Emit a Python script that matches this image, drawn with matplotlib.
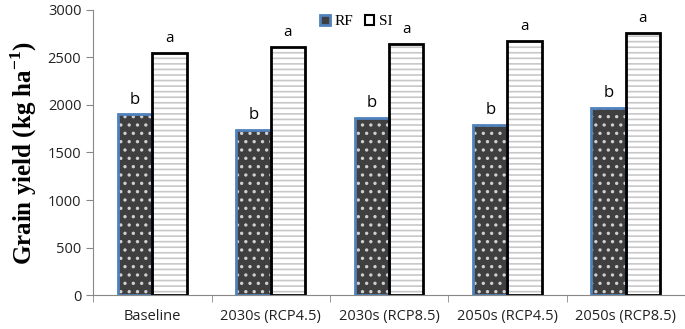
import matplotlib.pyplot as plt
import numpy as np
from matplotlib.patches import Patch
from matplotlib.ticker import FixedLocator

categories = ["Baseline", "2030s (RCP4.5)", "2030s (RCP8.5)",
              "2050s (RCP4.5)", "2050s (RCP8.5)"]
rf_yield = [1900, 1740, 1860, 1790, 1970]
si_yield = [2550, 2610, 2640, 2670, 2760]
rf_letters = ["b", "b", "b", "b", "b"]
si_letters = ["a", "a", "a", "a", "a"]

plt.rcParams["hatch.linewidth"] = 1.2
plt.rcParams["mathtext.fontset"] = "custom"
plt.rcParams["mathtext.rm"] = "Liberation Serif"
plt.rcParams["mathtext.bf"] = "Liberation Serif:bold"
plt.rcParams["font.family"] = ["Open Sans", "DejaVu Sans"]

fig = plt.figure(figsize=(6.85, 3.29), dpi=100)
ax = fig.add_axes([0.136, 0.103, 0.864, 0.867])

x = np.arange(len(categories))
width = 0.29

# fill + hatch layer, then outline layer
ax.bar(x - width / 2, rf_yield, width, color="#3f3f3f",
       edgecolor="#d0d0d0", hatch="..", linewidth=0)
ax.bar(x + width / 2, si_yield, width, color="white",
       edgecolor="#c8c8c8", hatch="---", linewidth=0)
ax.bar(x - width / 2, rf_yield, width, fill=False, edgecolor="#4f81bd",
       linewidth=2)
ax.bar(x + width / 2, si_yield, width, fill=False, edgecolor="black",
       linewidth=2)

for xi, v, s in zip(x, rf_yield, rf_letters):
    ax.annotate(s, (xi - width / 2, v), xytext=(0, 5),
                textcoords="offset points", ha="center", va="bottom",
                fontsize=12)
for xi, v, s in zip(x, si_yield, si_letters):
    ax.annotate(s, (xi + width / 2, v), xytext=(0, 5),
                textcoords="offset points", ha="center", va="bottom",
                fontsize=11)

ax.set_xlim(-0.5, len(categories) - 0.5)
ax.set_ylim(0, 3000)
ax.set_yticks(range(0, 3001, 500))
ax.set_xticks(x)
ax.set_xticklabels(categories)
ax.xaxis.set_minor_locator(FixedLocator(np.arange(-0.5, len(categories), 1)))
ax.tick_params(axis="x", which="major", length=0, pad=10, labelsize=10.5,
               colors="#222222")
ax.tick_params(axis="x", which="minor", length=5, color="#888888")
ax.tick_params(axis="y", length=5, color="#888888", labelsize=10.5,
               labelcolor="#222222")

for side in ["top", "right"]:
    ax.spines[side].set_visible(False)
for side in ["left", "bottom"]:
    ax.spines[side].set_color("#888888")

ax.set_ylabel("Grain yield (kg ha$^{\\mathbf{-1}}$)", fontsize=18,
              fontweight="bold", family="Liberation Serif", labelpad=6)

handles = [Patch(facecolor="#3f3f3f", edgecolor="#4f81bd", linewidth=2),
           Patch(facecolor="white", edgecolor="black", linewidth=1.5)]
ax.legend(handles, ["RF", "SI"], loc="upper center",
          bbox_to_anchor=(0.445, 1.03), ncol=2, frameon=False,
          prop={"family": "Liberation Serif", "size": 11},
          handlelength=0.6, handleheight=0.6, handletextpad=0.3,
          columnspacing=0.8)

fig.savefig("out.png", dpi=100)
